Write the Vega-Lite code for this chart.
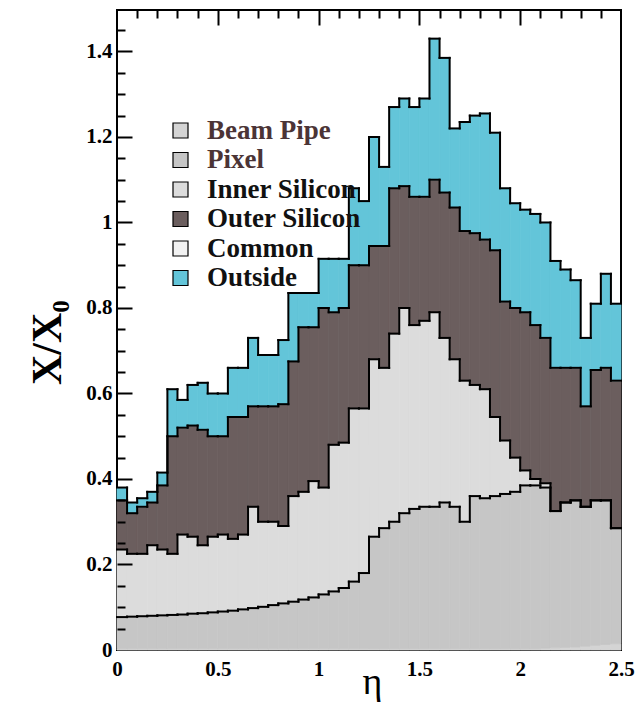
{
  "$schema": "https://vega.github.io/schema/vega-lite/v6.json",
  "width": 504,
  "height": 640,
  "autosize": "none",
  "padding": {"left": 117, "top": 10, "right": 16, "bottom": 56},
  "background": "white",
  "config": {
    "view": {"stroke": "black", "strokeWidth": 2},
    "font": "Liberation Serif",
    "axis": {"labelColor": "black", "titleColor": "black", "labelFont": "Liberation Serif", "labelFontWeight": "bold", "titleFont": "Liberation Serif", "domain": false, "ticks": false, "gridColor": "black", "gridWidth": 2, "gridOpacity": 1}
  },
  "data": {"values": [
    {"lo": 0.00, "hi": 0.05, "Beam Pipe": 0.003, "Pixel": 0.074, "Inner Silicon": 0.158, "Outer Silicon": 0.115, "Common": 0, "Outside": 0.030},
    {"lo": 0.05, "hi": 0.10, "Beam Pipe": 0.003, "Pixel": 0.075, "Inner Silicon": 0.147, "Outer Silicon": 0.095, "Common": 0, "Outside": 0.025},
    {"lo": 0.10, "hi": 0.15, "Beam Pipe": 0.003, "Pixel": 0.076, "Inner Silicon": 0.146, "Outer Silicon": 0.110, "Common": 0, "Outside": 0.020},
    {"lo": 0.15, "hi": 0.20, "Beam Pipe": 0.003, "Pixel": 0.077, "Inner Silicon": 0.165, "Outer Silicon": 0.100, "Common": 0, "Outside": 0.025},
    {"lo": 0.20, "hi": 0.25, "Beam Pipe": 0.003, "Pixel": 0.078, "Inner Silicon": 0.154, "Outer Silicon": 0.150, "Common": 0, "Outside": 0.030},
    {"lo": 0.25, "hi": 0.30, "Beam Pipe": 0.003, "Pixel": 0.079, "Inner Silicon": 0.143, "Outer Silicon": 0.275, "Common": 0, "Outside": 0.110},
    {"lo": 0.30, "hi": 0.35, "Beam Pipe": 0.003, "Pixel": 0.080, "Inner Silicon": 0.187, "Outer Silicon": 0.250, "Common": 0, "Outside": 0.065},
    {"lo": 0.35, "hi": 0.40, "Beam Pipe": 0.003, "Pixel": 0.082, "Inner Silicon": 0.180, "Outer Silicon": 0.260, "Common": 0, "Outside": 0.095},
    {"lo": 0.40, "hi": 0.45, "Beam Pipe": 0.003, "Pixel": 0.083, "Inner Silicon": 0.159, "Outer Silicon": 0.270, "Common": 0, "Outside": 0.110},
    {"lo": 0.45, "hi": 0.50, "Beam Pipe": 0.003, "Pixel": 0.085, "Inner Silicon": 0.177, "Outer Silicon": 0.235, "Common": 0, "Outside": 0.100},
    {"lo": 0.50, "hi": 0.55, "Beam Pipe": 0.003, "Pixel": 0.087, "Inner Silicon": 0.180, "Outer Silicon": 0.230, "Common": 0, "Outside": 0.100},
    {"lo": 0.55, "hi": 0.60, "Beam Pipe": 0.003, "Pixel": 0.089, "Inner Silicon": 0.168, "Outer Silicon": 0.285, "Common": 0, "Outside": 0.115},
    {"lo": 0.60, "hi": 0.65, "Beam Pipe": 0.003, "Pixel": 0.092, "Inner Silicon": 0.175, "Outer Silicon": 0.275, "Common": 0, "Outside": 0.115},
    {"lo": 0.65, "hi": 0.70, "Beam Pipe": 0.003, "Pixel": 0.095, "Inner Silicon": 0.237, "Outer Silicon": 0.235, "Common": 0, "Outside": 0.160},
    {"lo": 0.70, "hi": 0.75, "Beam Pipe": 0.003, "Pixel": 0.098, "Inner Silicon": 0.199, "Outer Silicon": 0.270, "Common": 0, "Outside": 0.120},
    {"lo": 0.75, "hi": 0.80, "Beam Pipe": 0.003, "Pixel": 0.102, "Inner Silicon": 0.195, "Outer Silicon": 0.270, "Common": 0, "Outside": 0.120},
    {"lo": 0.80, "hi": 0.85, "Beam Pipe": 0.003, "Pixel": 0.106, "Inner Silicon": 0.181, "Outer Silicon": 0.285, "Common": 0, "Outside": 0.150},
    {"lo": 0.85, "hi": 0.90, "Beam Pipe": 0.003, "Pixel": 0.110, "Inner Silicon": 0.247, "Outer Silicon": 0.315, "Common": 0, "Outside": 0.160},
    {"lo": 0.90, "hi": 0.95, "Beam Pipe": 0.003, "Pixel": 0.115, "Inner Silicon": 0.252, "Outer Silicon": 0.385, "Common": 0, "Outside": 0.080},
    {"lo": 0.95, "hi": 1.00, "Beam Pipe": 0.003, "Pixel": 0.120, "Inner Silicon": 0.272, "Outer Silicon": 0.360, "Common": 0, "Outside": 0.080},
    {"lo": 1.00, "hi": 1.05, "Beam Pipe": 0.003, "Pixel": 0.127, "Inner Silicon": 0.250, "Outer Silicon": 0.420, "Common": 0, "Outside": 0.115},
    {"lo": 1.05, "hi": 1.10, "Beam Pipe": 0.003, "Pixel": 0.134, "Inner Silicon": 0.343, "Outer Silicon": 0.310, "Common": 0, "Outside": 0.125},
    {"lo": 1.10, "hi": 1.15, "Beam Pipe": 0.003, "Pixel": 0.142, "Inner Silicon": 0.340, "Outer Silicon": 0.315, "Common": 0, "Outside": 0.115},
    {"lo": 1.15, "hi": 1.20, "Beam Pipe": 0.003, "Pixel": 0.157, "Inner Silicon": 0.405, "Outer Silicon": 0.335, "Common": 0, "Outside": 0.180},
    {"lo": 1.20, "hi": 1.25, "Beam Pipe": 0.003, "Pixel": 0.177, "Inner Silicon": 0.385, "Outer Silicon": 0.335, "Common": 0, "Outside": 0.150},
    {"lo": 1.25, "hi": 1.30, "Beam Pipe": 0.003, "Pixel": 0.262, "Inner Silicon": 0.415, "Outer Silicon": 0.265, "Common": 0, "Outside": 0.255},
    {"lo": 1.30, "hi": 1.35, "Beam Pipe": 0.003, "Pixel": 0.282, "Inner Silicon": 0.375, "Outer Silicon": 0.285, "Common": 0, "Outside": 0.185},
    {"lo": 1.35, "hi": 1.40, "Beam Pipe": 0.003, "Pixel": 0.297, "Inner Silicon": 0.440, "Outer Silicon": 0.340, "Common": 0, "Outside": 0.190},
    {"lo": 1.40, "hi": 1.45, "Beam Pipe": 0.003, "Pixel": 0.317, "Inner Silicon": 0.480, "Outer Silicon": 0.285, "Common": 0, "Outside": 0.205},
    {"lo": 1.45, "hi": 1.50, "Beam Pipe": 0.003, "Pixel": 0.327, "Inner Silicon": 0.430, "Outer Silicon": 0.300, "Common": 0, "Outside": 0.210},
    {"lo": 1.50, "hi": 1.55, "Beam Pipe": 0.003, "Pixel": 0.332, "Inner Silicon": 0.435, "Outer Silicon": 0.290, "Common": 0, "Outside": 0.230},
    {"lo": 1.55, "hi": 1.60, "Beam Pipe": 0.003, "Pixel": 0.332, "Inner Silicon": 0.455, "Outer Silicon": 0.310, "Common": 0, "Outside": 0.330},
    {"lo": 1.60, "hi": 1.65, "Beam Pipe": 0.003, "Pixel": 0.342, "Inner Silicon": 0.385, "Outer Silicon": 0.340, "Common": 0, "Outside": 0.315},
    {"lo": 1.65, "hi": 1.70, "Beam Pipe": 0.003, "Pixel": 0.332, "Inner Silicon": 0.345, "Outer Silicon": 0.355, "Common": 0, "Outside": 0.185},
    {"lo": 1.70, "hi": 1.75, "Beam Pipe": 0.003, "Pixel": 0.297, "Inner Silicon": 0.330, "Outer Silicon": 0.350, "Common": 0, "Outside": 0.255},
    {"lo": 1.75, "hi": 1.80, "Beam Pipe": 0.003, "Pixel": 0.357, "Inner Silicon": 0.260, "Outer Silicon": 0.355, "Common": 0, "Outside": 0.275},
    {"lo": 1.80, "hi": 1.85, "Beam Pipe": 0.003, "Pixel": 0.352, "Inner Silicon": 0.255, "Outer Silicon": 0.350, "Common": 0, "Outside": 0.295},
    {"lo": 1.85, "hi": 1.90, "Beam Pipe": 0.003, "Pixel": 0.357, "Inner Silicon": 0.185, "Outer Silicon": 0.390, "Common": 0, "Outside": 0.275},
    {"lo": 1.90, "hi": 1.95, "Beam Pipe": 0.003, "Pixel": 0.362, "Inner Silicon": 0.125, "Outer Silicon": 0.325, "Common": 0, "Outside": 0.265},
    {"lo": 1.95, "hi": 2.00, "Beam Pipe": 0.003, "Pixel": 0.367, "Inner Silicon": 0.080, "Outer Silicon": 0.350, "Common": 0, "Outside": 0.245},
    {"lo": 2.00, "hi": 2.05, "Beam Pipe": 0.003, "Pixel": 0.382, "Inner Silicon": 0.035, "Outer Silicon": 0.370, "Common": 0, "Outside": 0.240},
    {"lo": 2.05, "hi": 2.10, "Beam Pipe": 0.003, "Pixel": 0.382, "Inner Silicon": 0.015, "Outer Silicon": 0.360, "Common": 0, "Outside": 0.260},
    {"lo": 2.10, "hi": 2.15, "Beam Pipe": 0.004, "Pixel": 0.376, "Inner Silicon": 0.010, "Outer Silicon": 0.340, "Common": 0, "Outside": 0.270},
    {"lo": 2.15, "hi": 2.20, "Beam Pipe": 0.005, "Pixel": 0.320, "Inner Silicon": 0.000, "Outer Silicon": 0.335, "Common": 0, "Outside": 0.250},
    {"lo": 2.20, "hi": 2.25, "Beam Pipe": 0.006, "Pixel": 0.339, "Inner Silicon": 0.000, "Outer Silicon": 0.315, "Common": 0, "Outside": 0.230},
    {"lo": 2.25, "hi": 2.30, "Beam Pipe": 0.007, "Pixel": 0.343, "Inner Silicon": 0.000, "Outer Silicon": 0.310, "Common": 0, "Outside": 0.205},
    {"lo": 2.30, "hi": 2.35, "Beam Pipe": 0.009, "Pixel": 0.326, "Inner Silicon": 0.000, "Outer Silicon": 0.235, "Common": 0, "Outside": 0.160},
    {"lo": 2.35, "hi": 2.40, "Beam Pipe": 0.011, "Pixel": 0.339, "Inner Silicon": 0.000, "Outer Silicon": 0.305, "Common": 0, "Outside": 0.155},
    {"lo": 2.40, "hi": 2.45, "Beam Pipe": 0.013, "Pixel": 0.337, "Inner Silicon": 0.000, "Outer Silicon": 0.310, "Common": 0, "Outside": 0.220},
    {"lo": 2.45, "hi": 2.50, "Beam Pipe": 0.015, "Pixel": 0.270, "Inner Silicon": 0.000, "Outer Silicon": 0.345, "Common": 0, "Outside": 0.180}
  ]},
  "transform": [
    {"fold": ["Beam Pipe", "Pixel", "Inner Silicon", "Outer Silicon", "Common", "Outside"], "as": ["layer", "value"]},
    {"stack": "value", "groupby": ["lo"], "as": ["y0", "y1"]},
    {"window": [{"op": "lag", "field": "y1", "as": "prev"}], "groupby": ["layer"], "sort": [{"field": "lo", "order": "ascending"}]}
  ],
  "resolve": {"axis": {"x": "independent", "y": "independent"}},
  "layer": [
    {
      "mark": {"type": "bar", "stroke": {"expr": "scale('color', datum.layer)"}, "strokeWidth": 0.8},
      "encoding": {
        "x": {"field": "lo", "type": "quantitative", "scale": {"domain": [0, 2.5], "nice": false, "zero": false},
              "axis": {"orient": "bottom", "zindex": 1, "grid": false, "title": "η", "values": [0, 0.5, 1, 1.5, 2, 2.5], "format": ".1~f", "labelPadding": 8, "labelFontSize": 21, "labelFlush": false, "titleFontSize": 38, "titleFontWeight": "normal", "titleX": 255, "titleY": 43, "titleBaseline": "alphabetic"}},
        "x2": {"field": "hi"},
        "y": {"field": "y1", "type": "quantitative", "scale": {"domain": [0, 1.497], "nice": false},
              "axis": {"orient": "left", "zindex": 1, "grid": false, "title": "X/X₀", "values": [0, 0.2, 0.4, 0.6, 0.8, 1, 1.2, 1.4], "format": ".1~f", "labelPadding": 5, "labelFontSize": 21, "titleFontSize": 42, "titleFontWeight": "bold", "titleX": -57, "titleY": 332, "titleAngle": 270, "titleAlign": "center", "titleBaseline": "alphabetic"}},
        "y2": {"field": "y0"},
        "color": {"field": "layer", "type": "nominal",
                  "scale": {"domain": ["Beam Pipe", "Pixel", "Inner Silicon", "Outer Silicon", "Common", "Outside"], "range": ["#d4d4d4", "#c6c6c6", "#dcdcdc", "#6b5e5e", "#f2f2f2", "#63c5d9"]},
                  "legend": {"orient": "none", "legendX": 50, "legendY": 107, "title": null, "symbolType": "square", "symbolSize": 225, "symbolStrokeColor": "black", "symbolStrokeWidth": 1.2, "symbolOpacity": 1, "labelFont": "Liberation Serif", "labelFontWeight": "bold", "labelFontSize": 27, "labelOffset": 13, "rowPadding": 1.5, "labelLimit": 400,
                             "encode": {
                               "labels": {"update": {"fill": {"signal": "indexof(['Beam Pipe','Pixel'], datum.value) >= 0 ? '#4b3436' : '#111111'"}}},
                               "symbols": {"update": {"stroke": {"value": "black"}, "strokeWidth": {"value": 1.2}}}
                             }}}
      }
    },
    {
      "transform": [{"filter": "datum.layer !== 'Common' && datum.layer !== 'Beam Pipe'"}],
      "mark": {"type": "rule", "color": "black", "strokeWidth": 2, "strokeCap": "square"},
      "encoding": {
        "x": {"field": "lo", "type": "quantitative",
              "axis": {"orient": "top", "zindex": 1, "labels": false, "title": null, "grid": true, "gridDash": [15, 625], "gridDashOffset": 15, "values": [0.5, 1, 1.5, 2]}},
        "x2": {"field": "hi"},
        "y": {"field": "y1", "type": "quantitative",
              "axis": {"orient": "right", "zindex": 1, "labels": false, "title": null, "grid": true, "gridDash": [15, 489], "gridDashOffset": 15, "values": [0.2, 0.4, 0.6, 0.8, 1, 1.2, 1.4]}}
      }
    },
    {
      "transform": [{"filter": "isValid(datum.prev) && datum.layer !== 'Common' && datum.layer !== 'Beam Pipe'"}],
      "mark": {"type": "rule", "color": "black", "strokeWidth": 2, "strokeCap": "square"},
      "encoding": {
        "x": {"field": "lo", "type": "quantitative",
              "axis": {"orient": "top", "zindex": 1, "labels": false, "title": null, "grid": true, "gridDash": [8, 632], "gridDashOffset": 8, "values": [0.1, 0.2, 0.3, 0.4, 0.6, 0.7, 0.8, 0.9, 1.1, 1.2, 1.3, 1.4, 1.6, 1.7, 1.8, 1.9, 2.1, 2.2, 2.3, 2.4]}},
        "y": {"field": "prev", "type": "quantitative",
              "axis": {"orient": "right", "zindex": 1, "labels": false, "title": null, "grid": true, "gridDash": [8, 496], "gridDashOffset": 8, "values": [0.05, 0.1, 0.15, 0.25, 0.3, 0.35, 0.45, 0.5, 0.55, 0.65, 0.7, 0.75, 0.85, 0.9, 0.95, 1.05, 1.1, 1.15, 1.25, 1.3, 1.35, 1.45]}},
        "y2": {"field": "y1"}
      }
    }
  ]
}
